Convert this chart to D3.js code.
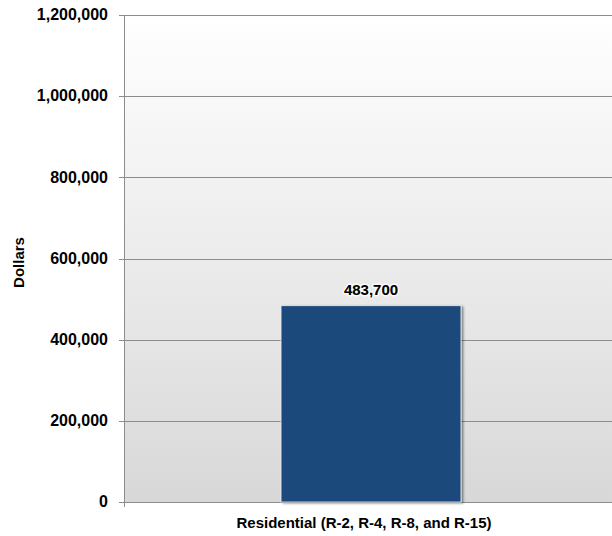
<!DOCTYPE html>
<html><head><meta charset="utf-8">
<script src="https://cdn.jsdelivr.net/npm/d3@7"></script>
<style>body{margin:0;background:#fff}svg{display:block}text{font-family:"Liberation Sans",Arial,sans-serif;font-weight:bold;fill:#000}</style>
</head><body>
<script>
const categories = ["Residential (R-2, R-4, R-8, and R-15)"];
const values = [483700];
const yTicks = [0, 200000, 400000, 600000, 800000, 1000000, 1200000];
const yTitle = "Dollars";

const W = 612, H = 536;
const m = {left: 124, right: 0, top: 15, bottom: 34};
const FONT = '"Liberation Sans",Arial,sans-serif';
const svg = d3.select("body").append("svg").attr("width", W).attr("height", H);
const defs = svg.append("defs");
const g1 = defs.append("linearGradient").attr("id","bg").attr("x1",0).attr("y1",0).attr("x2",0).attr("y2",1);
g1.append("stop").attr("offset","0%").attr("stop-color","#ffffff");
g1.append("stop").attr("offset","100%").attr("stop-color","#d8d8d8");
const f = defs.append("filter").attr("id","sh").attr("x","-10%").attr("y","-10%").attr("width","130%").attr("height","130%");
f.append("feDropShadow").attr("dx",2).attr("dy",1).attr("stdDeviation",1.2).attr("flood-color","#000").attr("flood-opacity",0.45);

const x = d3.scaleBand().domain(categories).range([m.left + 3, W + 3]).paddingInner(0).paddingOuter(0.856);
const y = d3.scaleLinear().domain([0, 1200000]).range([H - m.bottom, m.top]);

svg.append("rect").attr("x", m.left).attr("y", m.top).attr("width", W - m.right - m.left)
  .attr("height", y(0) - m.top).attr("fill", "url(#bg)");

// gridlines
svg.append("g").selectAll("line").data(yTicks).join("line")
  .attr("x1", m.left - 5).attr("x2", W).attr("y1", d => Math.round(y(d)) + 0.5).attr("y2", d => Math.round(y(d)) + 0.5)
  .attr("stroke", "#8c8c8c").attr("stroke-width", 1);

// y axis line
svg.append("line").attr("x1", m.left + 0.5).attr("x2", m.left + 0.5).attr("y1", m.top).attr("y2", y(0) + 5)
  .attr("stroke", "#8c8c8c");

const yAxis = d3.axisLeft(y).tickValues(yTicks).tickSize(0).tickPadding(16).tickFormat(d3.format(","));
const ya = svg.append("g").attr("transform", `translate(${m.left},0)`).call(yAxis);
ya.select(".domain").remove();
ya.selectAll("text").style("font-size", "16px").style("font-family", FONT).style("font-weight","bold").attr("fill","#000").attr("dy","0.3em");

// bars
svg.append("g").selectAll("rect").data(values).join("rect")
  .attr("x", (d, i) => x(categories[i])).attr("width", x.bandwidth())
  .attr("y", d => y(d)).attr("height", d => y(0) - y(d))
  .attr("fill", "#1f4a7c").attr("stroke", "#e8eef5").attr("stroke-width", 0.8).attr("filter", "url(#sh)");

const lbl = svg.append("g").selectAll("g").data(values).join("g");
lbl.append("text")
  .attr("x", (d, i) => x(categories[i]) + x.bandwidth() / 2).attr("y", d => y(d) - 11)
  .attr("text-anchor", "middle").style("font-size", "15px").style("font-weight","bold").style("font-family", FONT)
  .attr("fill", "none").attr("stroke", "#ffffff").attr("stroke-width", 3).attr("stroke-opacity", 0.8).attr("stroke-linejoin","round")
  .text(d3.format(","));
lbl.append("text")
  .attr("x", (d, i) => x(categories[i]) + x.bandwidth() / 2).attr("y", d => y(d) - 11)
  .attr("text-anchor", "middle").style("font-size", "15px").style("font-weight","bold").style("font-family", FONT)
  .attr("fill", "#000").text(d3.format(","));

// x axis labels
svg.append("g").selectAll("text").data(categories).join("text")
  .attr("x", d => x(d) + x.bandwidth() / 2 - 7).attr("y", H - 8)
  .attr("text-anchor", "middle").style("font-size", "15px").style("font-weight","bold").style("font-family", FONT).text(d => d);

svg.append("text").attr("transform", `translate(24,${(m.top + y(0)) / 2 + 4}) rotate(-90)`)
  .attr("text-anchor", "middle").style("font-size", "15px").style("font-weight","bold").style("font-family", FONT).text(yTitle);
</script>
</body></html>
